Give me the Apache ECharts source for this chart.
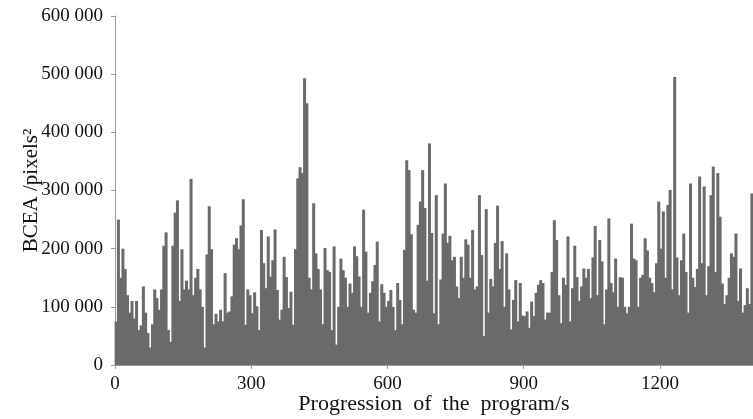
<!DOCTYPE html>
<html><head><meta charset="utf-8">
<script src="https://cdn.jsdelivr.net/npm/echarts@6/dist/echarts.min.js"></script>
<style>html,body{margin:0;padding:0;background:#fff}#c{width:753px;height:419px}</style>
</head><body><div id="c"></div>
<script>
// Sampling of the program progression (seconds): one bar per 5 s window
const sampleStart = 0;
const sampleStep = 5;
// BCEA values in thousands of pixels^2 (one per 5 s window)
const bceaK = [
  75,250,150,200,165,120,90,110,80,110,60,68,135,90,55,30,70,130,115,95,
  130,205,228,60,40,205,262,283,110,199,130,145,130,320,120,150,165,130,100,30,
  190,273,199,70,88,75,95,75,158,90,92,118,207,218,199,240,285,69,130,120,
  89,125,101,60,232,175,132,221,152,180,233,129,78,95,186,151,98,126,69,199,
  321,340,330,493,450,150,130,278,192,165,130,70,201,163,160,60,204,35,100,183,
  163,150,100,140,124,204,187,152,100,267,195,90,124,144,172,212,75,139,124,100,
  110,129,100,60,141,112,70,198,352,335,225,95,90,241,281,335,270,145,381,227,
  89,292,70,147,226,312,210,222,180,186,135,115,186,150,216,207,150,232,130,135,
  292,189,50,268,90,148,135,210,274,165,213,100,192,130,61,112,146,75,141,85,
  84,92,64,109,84,124,138,146,141,78,90,90,160,249,215,120,72,150,138,221,
  75,132,205,151,110,135,166,150,165,115,185,239,120,215,178,70,130,252,141,125,
  183,100,151,150,100,89,100,243,183,180,100,150,155,218,197,150,141,125,175,281,
  200,264,150,275,301,130,495,185,120,180,226,160,90,312,150,134,165,324,175,307,
  120,170,292,341,160,330,255,140,105,120,150,192,186,226,110,166,90,103,132,105,
  295
];
const xTickValues = [0, 300, 600, 900, 1200];
const yTickValues = [0, 100, 200, 300, 400, 500, 600];
const xTitle = 'Progression  of  the  program/s';
const yTitle = 'BCEA /pixels\u00B2';

const chart = echarts.init(document.getElementById('c'), null, {renderer: 'canvas'});
const seriesData = bceaK.map((v, i) => [sampleStart + i * sampleStep + sampleStep / 2, v]);
const serif = 'Liberation Serif, "Times New Roman", serif';
chart.setOption({
  animation: false,
  grid: {left: 115, right: 0, top: 16, bottom: 54, containLabel: false, outerBoundsMode: 'none'},
  xAxis: {
    type: 'value', min: 0, max: 1405, interval: 300,
    axisLine: {lineStyle: {color: '#9a9a9a', width: 1}},
    axisTick: {show: true, length: 4, lineStyle: {color: '#9a9a9a'}},
    splitLine: {show: false},
    axisLabel: {color: '#111', fontFamily: serif, fontSize: 19, margin: 10,
      formatter: v => xTickValues.includes(v) ? String(v) : ''},
    name: xTitle, nameLocation: 'middle', nameGap: 28, nameMoveOverlap: false,
    nameTextStyle: {color: '#111', fontFamily: serif, fontSize: 22}
  },
  yAxis: {
    type: 'value', min: 0, max: 600, interval: 100,
    axisLine: {show: true, lineStyle: {color: '#9a9a9a', width: 1}},
    axisTick: {show: true, length: 4, lineStyle: {color: '#9a9a9a'}},
    splitLine: {show: false},
    axisLabel: {color: '#111', fontFamily: serif, fontSize: 19, margin: 12,
      formatter: v => yTickValues.includes(v) ? (v === 0 ? '0' : v + ' 000') : ''},
    name: yTitle, nameLocation: 'middle', nameGap: 73, nameRotate: 90, nameMoveOverlap: false,
    nameTextStyle: {color: '#111', fontFamily: serif, fontSize: 21}
  },
  series: [{
    type: 'bar', data: seriesData, barWidth: 3,
    itemStyle: {color: '#6a6a6a'}
  }]
});
</script></body></html>
